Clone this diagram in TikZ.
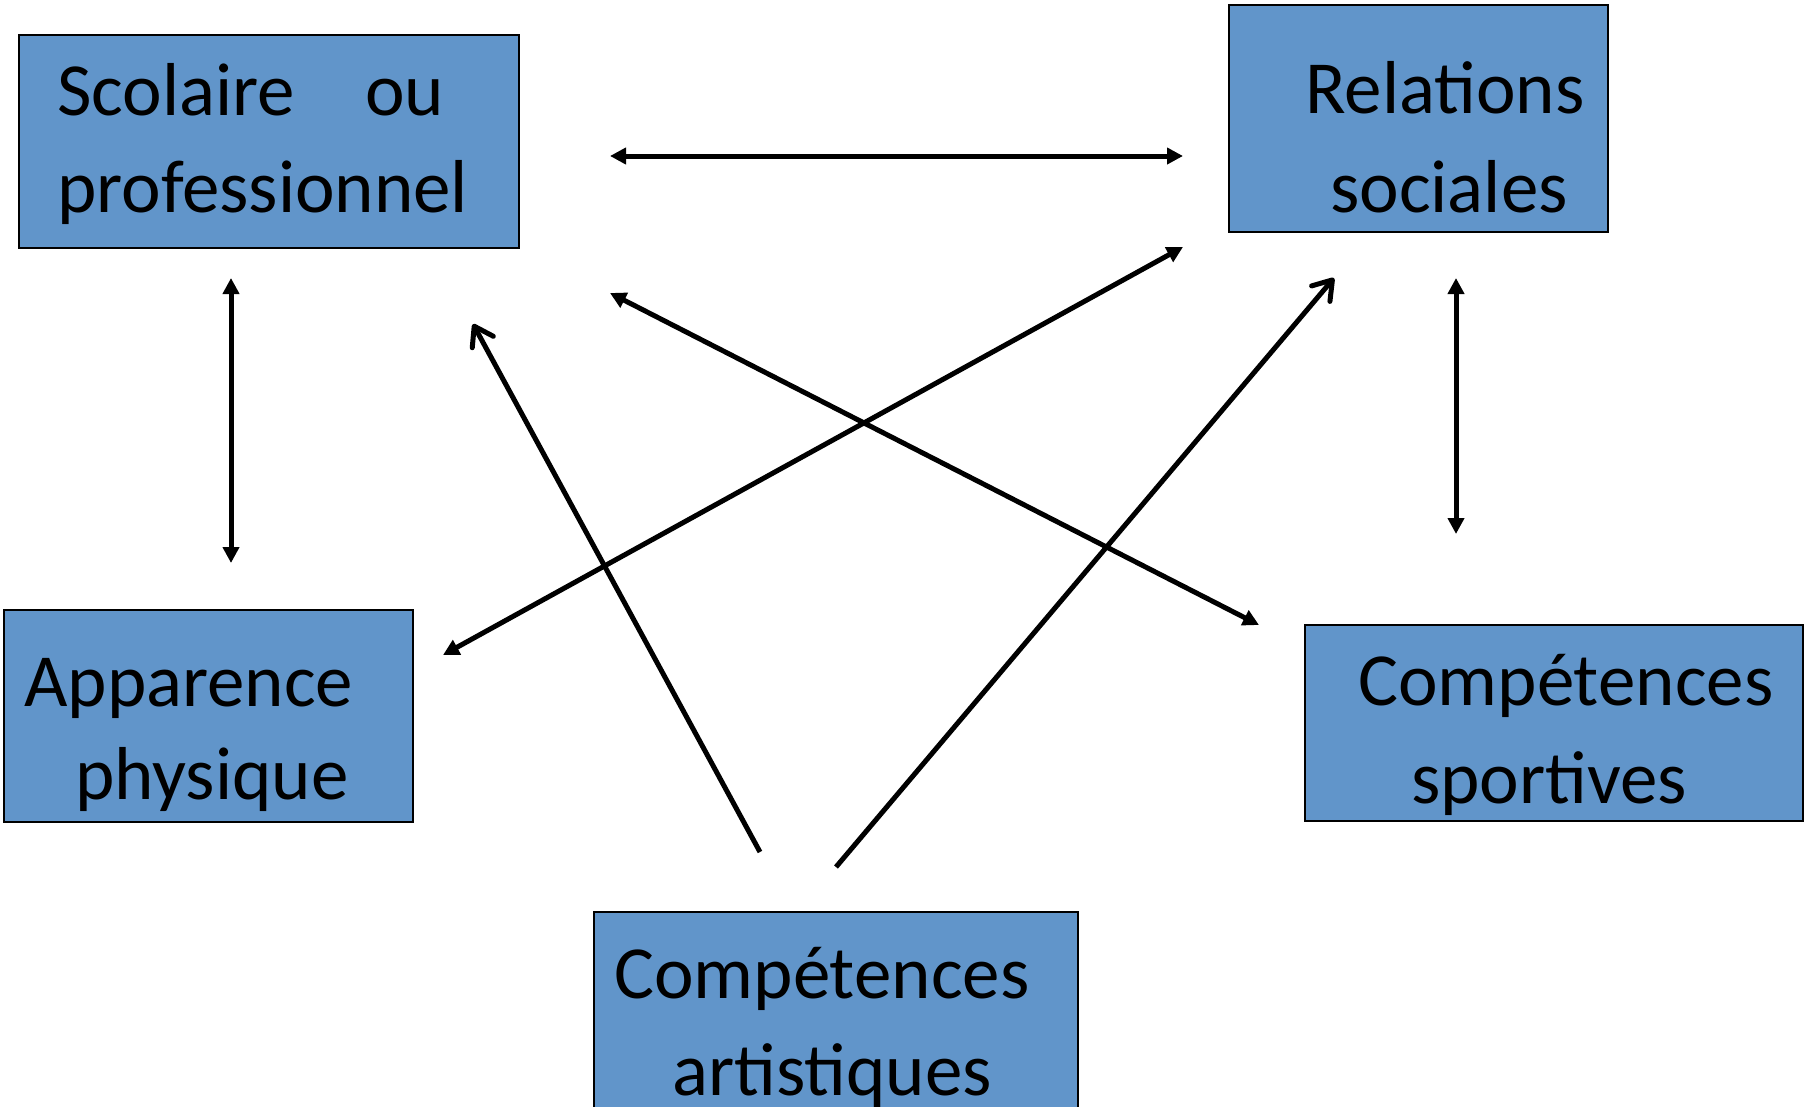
\documentclass[tikz,border=0pt]{standalone}
\usepackage{fontspec}
\setmainfont{Carlito}
\usetikzlibrary{arrows.meta}
\definecolor{boxblue}{HTML}{6195CA}
\begin{document}
\begin{tikzpicture}[x=1pt,y=-1pt,
  box/.style={draw=black, line width=2pt, fill=boxblue, inner sep=0pt, outer sep=0pt, anchor=north west},
  lbl/.style={anchor=base west, inner sep=0pt, font=\fontsize{75}{90}\selectfont},
  link/.style={line width=5pt, draw=black},
  dbl/.style={link, {Triangle[length=16pt,width=16pt]}-{Triangle[length=16pt,width=16pt]}},
  oneway/.style={link, -{Straight Barb[length=18pt,width=24pt,round]}}
]
\clip (0,0) rectangle (1810,1106);
\fill[white] (0,0) rectangle (1810,1106);

% boxes
\node[box, minimum width=500pt, minimum height=213pt] (scol) at (19,35) {};
\node[box, minimum width=379pt, minimum height=227pt] (rel) at (1229,5) {};
\node[box, minimum width=409pt, minimum height=212pt] (app) at (4,610) {};
\node[box, minimum width=498pt, minimum height=196pt] (sport) at (1305,625) {};
\node[box, minimum width=484pt, minimum height=228pt] (art) at (594,912) {};

% texts
\node[lbl] (scolA) at (57,115) {Scolaire\hspace{70pt}ou};
\node[lbl] (scolB) at (57,212) {professionnel};
\node[lbl] (relA) at (1305,113) {Relations};
\node[lbl] (relB) at (1330,212) {sociales};
\node[lbl] (appA) at (24,706) {Apparence};
\node[lbl] (appB) at (75,799) {physique};
\node[lbl] (sportA) at (1358,705) {Compétences};
\node[lbl] (sportB) at (1411,803) {sportives};
\node[lbl] (artA) at (614,998) {Compétences};
\node[lbl] (artB) at (672,1095) {artistiques};

% connector end points
\coordinate (h1) at (610,156);
\coordinate (h2) at (1183,156);
\coordinate (vl1) at (231,278);
\coordinate (vl2) at (231,563);
\coordinate (vr1) at (1456,278);
\coordinate (vr2) at (1456,534);
\coordinate (d1a) at (443,655);
\coordinate (d1b) at (1183,247);
\coordinate (d2a) at (610,293);
\coordinate (d2b) at (1259,625);
\coordinate (o1a) at (760,852);
\coordinate (o1b) at (473,324);
\coordinate (o2a) at (836,867);
\coordinate (o2b) at (1334,278);

% connectors
\draw[dbl] (h1) -- (h2);
\draw[dbl] (vl1) -- (vl2);
\draw[dbl] (vr1) -- (vr2);
\draw[dbl] (d1a) -- (d1b);
\draw[dbl] (d2a) -- (d2b);
\draw[oneway] (o1a) -- (o1b);
\draw[oneway] (o2a) -- (o2b);
\end{tikzpicture}
\end{document}
